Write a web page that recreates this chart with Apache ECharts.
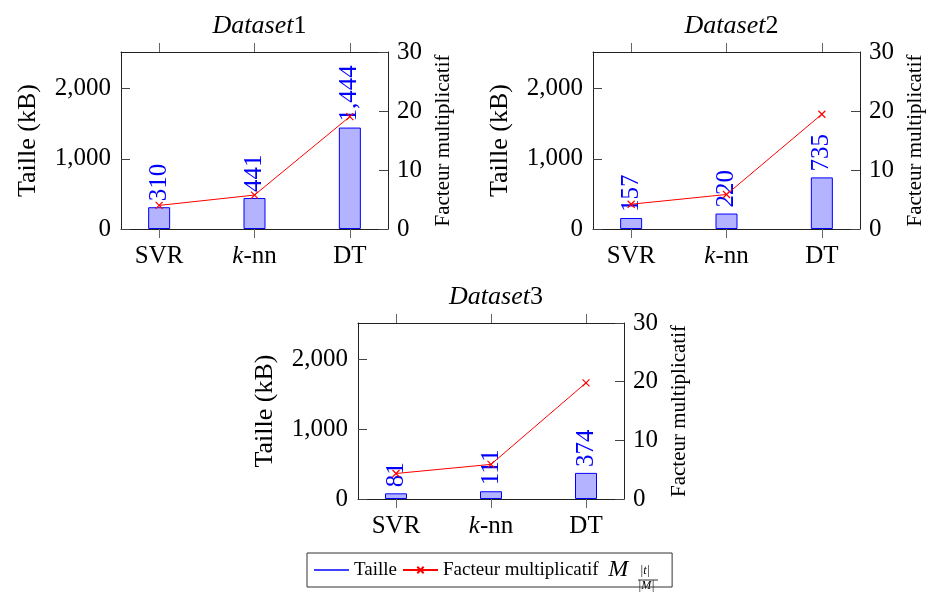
<!DOCTYPE html>
<html>
<head>
<meta charset="utf-8">
<script src="https://cdn.jsdelivr.net/npm/echarts@6/dist/echarts.min.js"></script>
<style>
html,body{margin:0;padding:0;background:#fff;}
#c{width:930px;height:592px;}
</style>
</head>
<body>
<div id="c"></div>
<script>
// ---- data ----
const categories = ['SVR', 'k-nn', 'DT'];
const datasetNames = ['Dataset1', 'Dataset2', 'Dataset3'];
const tailleD1 = [310, 441, 1444];
const tailleD2 = [157, 220, 735];
const tailleD3 = [81, 111, 374];
const facteurD1 = [4.0, 5.75, 19.05];
const facteurD2 = [4.2, 5.85, 19.45];
const facteurD3 = [4.35, 5.9, 19.8];
const leftTicks = [0, 1000, 2000];
const rightTicks = [0, 10, 20, 30];

const tailles = [tailleD1, tailleD2, tailleD3];
const facteurs = [facteurD1, facteurD2, facteurD3];

const FONT = 'Liberation Serif';
const grids = [
  {left: 121, top: 52, width: 267, height: 177},
  {left: 593, top: 52, width: 267, height: 177},
  {left: 358, top: 323, width: 266, height: 176}
];
const titlePos = [{x: 254.5, y: 8}, {x: 726.5, y: 8}, {x: 491, y: 279}];

const fmtNum = v => Number(v).toLocaleString('en-US');
const catIdx = categories.map((c, i) => i);
const NB = '\u00a0';

const option = {
  backgroundColor: '#fff',
  animation: false,
  textStyle: {fontFamily: FONT},
  title: datasetNames.map((n, i) => ({
    text: '{i|' + n.replace(/\d+$/, '') + '}{n|' + n.match(/\d+$/)[0] + '}',
    left: titlePos[i].x, top: titlePos[i].y, textAlign: 'center',
    textStyle: {
      fontFamily: FONT, fontSize: 26, fontWeight: 'normal', color: '#000',
      rich: {
        i: {fontFamily: FONT, fontSize: 26, fontStyle: 'italic', color: '#000'},
        n: {fontFamily: FONT, fontSize: 26, color: '#000'}
      }
    }
  })),
  grid: grids,
  xAxis: [],
  yAxis: [],
  series: [],
  legend: {
    left: 307, top: 553,
    padding: [5, 8, 5, 7],
    itemGap: 5, itemWidth: 35, itemHeight: 8,
    borderColor: '#333', borderWidth: 1, borderRadius: 0,
    textStyle: {
      fontFamily: FONT, fontSize: 19, color: '#000',
      rich: {
        m: {fontFamily: FONT, fontSize: 24, fontStyle: 'italic', color: '#000'}
      }
    },
    data: [
      {name: 'Taille', icon: 'path://M0,0H35V1.3H0Z', itemStyle: {color: '#0000ff', borderWidth: 0}},
      {name: 'Facteur multiplicatif'}
    ],
    formatter: name => name === 'Taille' ? 'Taille'
      : 'Facteur multiplicatif' + NB + NB + '{m|M' + NB.repeat(6) + '}'
  },
  graphic: [
    {type: 'text', left: 640, top: 565, style: {text: '|t|', font: 'italic 12px "Liberation Serif"', fill: '#000'}},
    {type: 'line', shape: {x1: 638, y1: 580, x2: 658, y2: 580}, style: {stroke: '#000', lineWidth: 0.8}},
    {type: 'text', left: 638, top: 580, style: {text: '|M|', font: 'italic 12px "Liberation Serif"', fill: '#000'}}
  ]
};

const axisLineStyle = {color: '#222', width: 1};
const labelStyle = {fontFamily: FONT, fontSize: 25, color: '#000'};

for (let g = 0; g < 3; g++) {
  // bottom x
  option.xAxis.push({
    gridIndex: g, type: 'value', position: 'bottom', min: -0.4, max: 2.4,
    splitLine: {show: false},
    axisLine: {show: true, onZero: false, lineStyle: axisLineStyle},
    axisTick: {show: true, inside: false, length: 9, customValues: catIdx, lineStyle: {color: '#666'}},
    axisLabel: {
      show: true, margin: 15, customValues: catIdx, ...labelStyle,
      formatter: v => {
        const c = categories[Math.round(v)];
        if (c === undefined) return '';
        return c === 'k-nn' ? '{k|k}-nn' : c;
      },
      rich: {k: {fontFamily: FONT, fontSize: 25, fontStyle: 'italic', color: '#000'}}
    }
  });
  // top x (frame)
  option.xAxis.push({
    gridIndex: g, type: 'value', position: 'top', min: -0.4, max: 2.4,
    splitLine: {show: false},
    axisLine: {show: true, onZero: false, lineStyle: axisLineStyle},
    axisTick: {show: true, inside: false, length: 9, customValues: catIdx, lineStyle: {color: '#666'}},
    axisLabel: {show: false}
  });
  // left y
  option.yAxis.push({
    gridIndex: g, type: 'value', position: 'left', min: 0, max: 2520,
    splitLine: {show: false},
    name: 'Taille (kB)', nameLocation: 'middle', nameGap: 80, nameRotate: 90,
    nameTextStyle: {fontFamily: FONT, fontSize: 26, color: '#000'},
    axisLine: {show: true, onZero: false, lineStyle: axisLineStyle},
    axisTick: {show: true, inside: true, length: 9, customValues: leftTicks, lineStyle: {color: '#444'}},
    axisLabel: {show: true, margin: 10, customValues: leftTicks, ...labelStyle, formatter: v => fmtNum(v)}
  });
  // right y
  option.yAxis.push({
    gridIndex: g, type: 'value', position: 'right', min: 0, max: 30, interval: 10,
    splitLine: {show: false},
    name: 'Facteur multiplicatif', nameLocation: 'middle', nameGap: 45, nameRotate: 90,
    nameTextStyle: {fontFamily: FONT, fontSize: 21, color: '#000'},
    axisLine: {show: true, onZero: false, lineStyle: axisLineStyle},
    axisTick: {show: true, inside: true, length: 9, customValues: rightTicks, lineStyle: {color: '#444'}},
    axisLabel: {show: true, margin: 9, customValues: rightTicks, ...labelStyle}
  });

  option.series.push({
    name: 'Taille', type: 'bar',
    xAxisIndex: g * 2, yAxisIndex: g * 2,
    barWidth: 22,
    data: tailles[g].map((v, i) => [i, v]),
    itemStyle: {color: '#b3b3ff', borderColor: '#0000ff', borderWidth: 1},
    label: {
      show: true, position: 'top', rotate: 90, align: 'left', verticalAlign: 'middle',
      distance: 6, fontFamily: FONT, fontSize: 25, color: '#0000ff',
      formatter: p => fmtNum(p.value[1])
    },
    z: 2
  });
  option.series.push({
    name: 'Facteur multiplicatif', type: 'line',
    xAxisIndex: g * 2, yAxisIndex: g * 2 + 1,
    data: facteurs[g].map((v, i) => [i, v]),
    lineStyle: {color: '#ff0000', width: 1},
    symbol: 'path://M0,0L10,10M10,0L0,10',
    symbolSize: 7,
    itemStyle: {color: '#ff0000', borderColor: '#ff0000', borderWidth: 1.2},
    z: 3
  });
}

const chart = echarts.init(document.getElementById('c'), null, {renderer: 'canvas'});
chart.setOption(option);
</script>
</body>
</html>
